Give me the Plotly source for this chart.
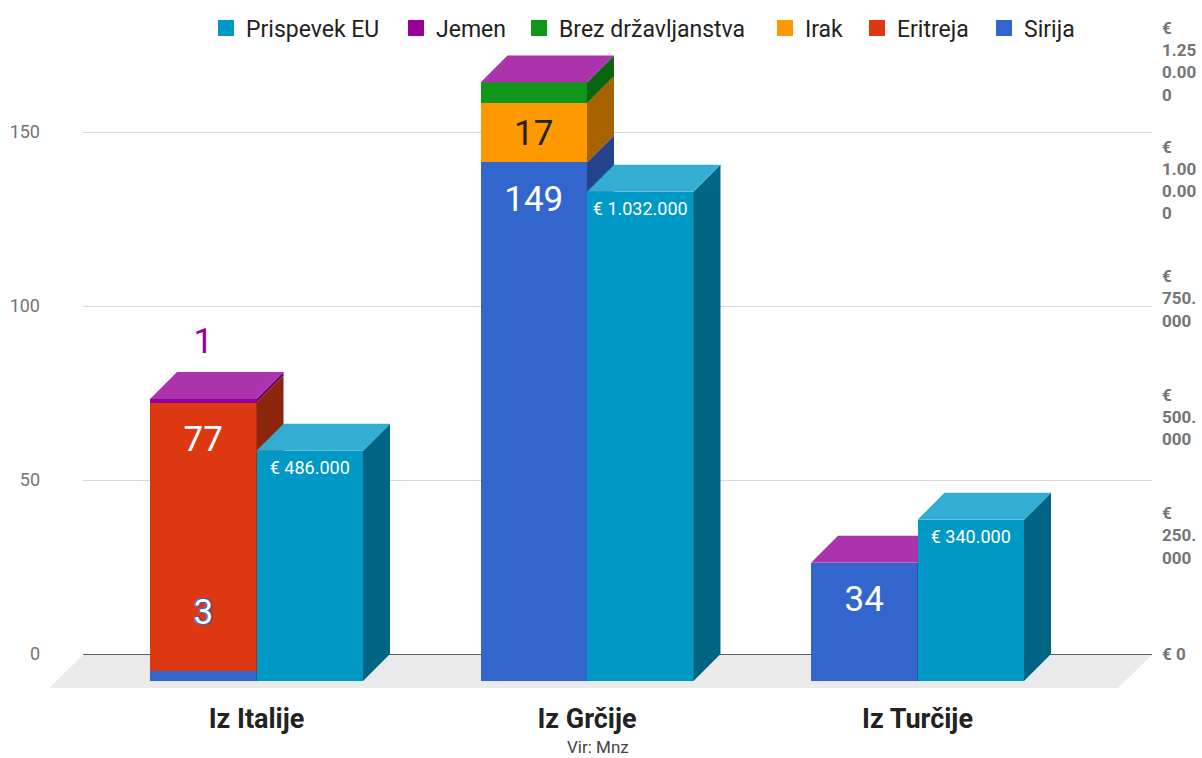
import plotly.graph_objects as go

# ---------------- data ----------------
categories = ["Iz Italije", "Iz Grčije", "Iz Turčije"]
sirija = [3, 149, 34]
eritreja = [77, 0, 0]
irak = [0, 17, 0]
brez_drzavljanstva = [0, 6, 0]
jemen = [1, 0, 0]
prispevek_eu = [486000, 1032000, 340000]

left_ticks = [0, 50, 100, 150]
right_ticks = [0, 250000, 500000, 750000, 1000000, 1250000]
right_tick_labels = ["€ 0", "€<br>250.<br>000", "€<br>500.<br>000", "€<br>750.<br>000",
                     "€<br>1.00<br>0.00<br>0", "€<br>1.25<br>0.00<br>0"]
eu_labels = ["€ 486.000", "€ 1.032.000", "€ 340.000"]
source_text = "Vir: Mnz"

# ---------------- style / geometry ----------------
FONT = "Roboto"
W, H = 1202, 758
PX_PER_UNIT = 3.48
PX_PER_EUR = 118.5 / 250000
EUR_PER_UNIT = PX_PER_UNIT / PX_PER_EUR
BACK_ZERO = 654
FRONT_ZERO = 681
DEPTH = 27
PLOT_TOP = 40
BACK_X0, BACK_X1 = 83, 1152
CAT0, CAT_STEP, BAR_PX = 256.5, 330.5, 106.5
FRONT_BOTTOM = 698
FLOOR_FRONT = 688
LEGEND_Y = 28
LEGEND_OFFSET = 20  # legend box left -> symbol centre

BW = BAR_PX / CAT_STEP
DX = DEPTH / CAT_STEP
DY = DEPTH / PX_PER_UNIT
DY_EUR = DY * EUR_PER_UNIT

def yp(px):
    return 1 - px / H

# series bottom -> top: name, values, front, side
series = [
    ("Sirija", sirija, "#3366cc", "#23438c"),
    ("Eritreja", eritreja, "#dc3912", "#8c250b"),
    ("Irak", irak, "#ff9900", "#a66300"),
    ("Brez državljanstva", brez_drzavljanstva, "#109618", "#0a6510"),
    ("Jemen", jemen, "#990099", "#640064"),
]
TOP_STACK = "#ab33ab"
EU_FRONT, EU_SIDE, EU_TOP = "#0099c6", "#006582", "#33add2"

# legend entries (left -> right): name, colour, symbol centre px
legend_entries = [
    ("Prispevek EU", EU_FRONT, 226),
    ("Jemen", "#990099", 416),
    ("Brez državljanstva", "#109618", 539),
    ("Irak", "#ff9900", 785),
    ("Eritreja", "#dc3912", 877),
    ("Sirija", "#3366cc", 1004),
]

pos = list(range(len(categories)))
fig = go.Figure()

# empty traces so the back-plane axes (gridlines, left and right ticks) are drawn
fig.add_trace(go.Scatter(x=[], y=[], xaxis="x", yaxis="y", showlegend=False, hoverinfo="skip"))
fig.add_trace(go.Scatter(x=[], y=[], xaxis="x", yaxis="y2", showlegend=False, hoverinfo="skip"))

def poly(xs, ys, color, yaxis):
    fig.add_trace(go.Scatter(x=xs + [xs[0]], y=ys + [ys[0]], fill="toself", mode="lines",
                             fillcolor=color, line=dict(width=0, color=color),
                             hoverinfo="skip", showlegend=False, xaxis="x3", yaxis=yaxis))

# ---- stacked bars (front faces) ----
bottoms = [0] * len(categories)
seg_bounds = []
for name, vals, front, side in series:
    fig.add_trace(go.Bar(x=pos, y=vals, base=list(bottoms), offset=-BW, width=BW,
                         marker=dict(color=front, line=dict(width=0)), name=name, showlegend=False,
                         xaxis="x3", yaxis="y3", hoverinfo="skip"))
    for i, v in enumerate(vals):
        if v > 0:
            seg_bounds.append((i, bottoms[i], bottoms[i] + v, side))
    bottoms = [b + v for b, v in zip(bottoms, vals)]
totals = bottoms

# side faces
for i, b, t, side in seg_bounds:
    xr = pos[i]
    poly([xr, xr + DX, xr + DX, xr], [b, b + DY, t + DY, t], side, "y3")
# top faces
for i, T in enumerate(totals):
    xl, xr = pos[i] - BW, pos[i]
    poly([xl, xl + DX, xr + DX, xr], [T, T + DY, T + DY, T], TOP_STACK, "y3")

# ---- EU contribution bars ----
fig.add_trace(go.Bar(x=pos, y=prispevek_eu, base=0, offset=0, width=BW,
                     marker=dict(color=EU_FRONT, line=dict(width=0)), name="Prispevek EU",
                     showlegend=False, xaxis="x3", yaxis="y4", hoverinfo="skip"))
for i, v in enumerate(prispevek_eu):
    xl, xr = pos[i], pos[i] + BW
    poly([xr, xr + DX, xr + DX, xr], [0, DY_EUR, v + DY_EUR, v], EU_SIDE, "y4")
    poly([xl, xl + DX, xr + DX, xr], [v, v + DY_EUR, v + DY_EUR, v], EU_TOP, "y4")

# ---- value labels ----
def label(x, y, text, color, size, yaxis, shadow=None):
    tf = dict(family=FONT, size=size, color=color)
    if shadow:
        tf["shadow"] = shadow
    fig.add_trace(go.Scatter(x=[x], y=[y], mode="text", text=[text], textposition="middle center",
                             textfont=tf, hoverinfo="skip", showlegend=False,
                             xaxis="x3", yaxis=yaxis))

IN_TOP = 40 / PX_PER_UNIT
VAL_SIZE = 35
sc = -BW / 2
# Italy
label(pos[0] + sc, sirija[0] + eritreja[0] - IN_TOP, str(eritreja[0]), "white", VAL_SIZE, "y3")
label(pos[0] + sc, 66 / PX_PER_UNIT, str(sirija[0]), "white", VAL_SIZE, "y3",
      shadow="1px 1px 0 #3366cc, -1px -1px 0 #3366cc, 1px -1px 0 #3366cc, -1px 1px 0 #3366cc")
label(pos[0] + sc, totals[0] + 55 / PX_PER_UNIT, str(jemen[0]), "#990099", VAL_SIZE, "y3")
# Greece
label(pos[1] + sc, sirija[1] - IN_TOP, str(sirija[1]), "white", VAL_SIZE, "y3")
label(pos[1] + sc, sirija[1] + irak[1] / 2 - 1, str(irak[1]), "#222222", VAL_SIZE, "y3")
# Turkey
label(pos[2] + sc, sirija[2] - IN_TOP, str(sirija[2]), "white", VAL_SIZE, "y3")
# EU labels
for i, v in enumerate(prispevek_eu):
    label(pos[i] + BW / 2, v - 19 / PX_PER_EUR, eu_labels[i], "white", 18, "y4")

# ---- legend entries (one single-entry legend each, to match spacing) ----
legend_layouts = {}
for k, (name, color, cx) in enumerate(legend_entries):
    lid = "legend" if k == 0 else "legend{}".format(k + 1)
    fig.add_trace(go.Scatter(x=[None], y=[None], mode="markers", name=name, legend=lid,
                             marker=dict(symbol="square", size=14, color=color,
                                         line=dict(width=2, color=color)),
                             xaxis="x3", yaxis="y3", hoverinfo="skip", showlegend=True))
    legend_layouts[lid] = dict(orientation="h", x=(cx - LEGEND_OFFSET) / W, xanchor="left",
                               y=yp(LEGEND_Y), yanchor="middle", itemsizing="trace",
                               font=dict(family=FONT, size=23, color="#222222"),
                               bgcolor="rgba(0,0,0,0)", borderwidth=0)

# ---- floor ----
fx0, fx1 = BACK_X0 - (FLOOR_FRONT - BACK_ZERO), BACK_X1 - (FLOOR_FRONT - BACK_ZERO)
floor_path = "M {},{} L {},{} L {},{} L {},{} Z".format(
    fx0 / W, yp(FLOOR_FRONT), fx1 / W, yp(FLOOR_FRONT), BACK_X1 / W, yp(BACK_ZERO + 1), BACK_X0 / W, yp(BACK_ZERO + 1))
fig.add_shape(type="path", path=floor_path, xref="paper", yref="paper",
              fillcolor="#ebebeb", line=dict(width=0), layer="below")

y3_range = [(FRONT_ZERO - FRONT_BOTTOM) / PX_PER_UNIT, FRONT_ZERO / PX_PER_UNIT]
yback_top = (BACK_ZERO - PLOT_TOP) / PX_PER_UNIT

fig.update_layout(
    width=W, height=H, autosize=False,
    margin=dict(l=0, r=0, t=0, b=0, pad=0, autoexpand=False),
    paper_bgcolor="white", plot_bgcolor="rgba(0,0,0,0)",
    barmode="overlay", bargap=0,
    font=dict(family=FONT, color="#222222"),
    showlegend=True,
    # back plane (gridlines + axes)
    xaxis=dict(domain=[BACK_X0 / W, BACK_X1 / W], range=[0, 1], visible=False, fixedrange=True,
               automargin=False),
    yaxis=dict(domain=[yp(BACK_ZERO), yp(PLOT_TOP)], range=[0, yback_top], tickvals=left_ticks,
               showgrid=True, gridcolor="#d9d9d9", gridwidth=1, zeroline=True, zerolinecolor="#5f5f5f",
               zerolinewidth=1, showline=False, ticks="", ticklabelstandoff=42, automargin=False,
               tickfont=dict(family=FONT, size=18, color="#757575"), anchor="x", fixedrange=True),
    yaxis2=dict(overlaying="y", side="right", anchor="x", range=[0, yback_top * EUR_PER_UNIT],
                tickvals=right_ticks, ticktext=right_tick_labels, showgrid=False, zeroline=False,
                showline=False, ticks="", ticklabelstandoff=9, automargin=False,
                tickfont=dict(family=FONT, size=17, color="#757575", weight="bold"), fixedrange=True),
    # front plane (bars)
    xaxis3=dict(domain=[0, 1], range=[-CAT0 / CAT_STEP, (W - CAT0) / CAT_STEP], anchor="y3",
                tickvals=pos, ticktext=categories, showgrid=False, zeroline=False, showline=False,
                ticks="", ticklabelstandoff=2, automargin=False,
                tickfont=dict(family=FONT, size=27, color="#222222", weight="bold"), fixedrange=True),
    yaxis3=dict(domain=[yp(FRONT_BOTTOM), 1], range=y3_range, anchor="x3", visible=False,
                fixedrange=True, automargin=False),
    yaxis4=dict(overlaying="y3", anchor="x3", range=[r * EUR_PER_UNIT for r in y3_range],
                visible=False, fixedrange=True, automargin=False),
    **legend_layouts,
)

fig.add_annotation(text=source_text, xref="paper", yref="paper", x=598 / W, y=yp(747),
                   xanchor="center", yanchor="middle", showarrow=False,
                   font=dict(family=FONT, size=17, color="#444444"))

fig.write_html("out.html")
